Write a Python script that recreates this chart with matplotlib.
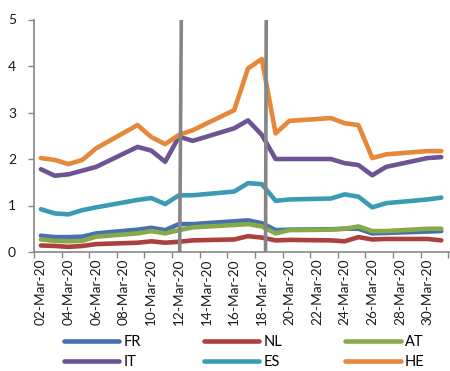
import matplotlib
matplotlib.use("Agg")
import matplotlib.pyplot as plt
import pandas as pd

plt.rcParams['font.family'] = ['Lato', 'DejaVu Sans']

# business days of March 2020
dates = ["2020-03-02", "2020-03-03", "2020-03-04", "2020-03-05", "2020-03-06",
         "2020-03-09", "2020-03-10", "2020-03-11", "2020-03-12", "2020-03-13",
         "2020-03-16", "2020-03-17", "2020-03-18", "2020-03-19", "2020-03-20",
         "2020-03-23", "2020-03-24", "2020-03-25", "2020-03-26", "2020-03-27",
         "2020-03-30", "2020-03-31"]

fr = [0.35, 0.32, 0.32, 0.33, 0.40, 0.48, 0.52, 0.47, 0.60, 0.60, 0.66,
      0.68, 0.62, 0.47, 0.48, 0.49, 0.50, 0.50, 0.40, 0.41, 0.44, 0.45]
nl = [0.14, 0.13, 0.11, 0.13, 0.17, 0.20, 0.23, 0.20, 0.22, 0.25, 0.27,
      0.34, 0.31, 0.25, 0.26, 0.25, 0.23, 0.32, 0.27, 0.28, 0.28, 0.25]
at = [0.27, 0.24, 0.23, 0.24, 0.33, 0.40, 0.45, 0.40, 0.47, 0.53, 0.58,
      0.60, 0.55, 0.40, 0.47, 0.48, 0.50, 0.55, 0.45, 0.45, 0.50, 0.50]
it = [1.78, 1.64, 1.67, 1.75, 1.83, 2.26, 2.18, 1.94, 2.48, 2.39, 2.66,
      2.83, 2.52, 2.00, 2.00, 2.00, 1.91, 1.87, 1.65, 1.83, 2.02, 2.04]
es = [0.92, 0.83, 0.81, 0.90, 0.96, 1.12, 1.16, 1.03, 1.22, 1.22, 1.30,
      1.48, 1.46, 1.10, 1.13, 1.15, 1.24, 1.19, 0.96, 1.05, 1.13, 1.17]
he = [2.02, 1.98, 1.89, 1.98, 2.23, 2.73, 2.47, 2.32, 2.52, 2.62, 3.05,
      3.95, 4.15, 2.55, 2.82, 2.88, 2.77, 2.73, 2.02, 2.10, 2.17, 2.17]

series = [("FR", fr, "#4571AE"), ("NL", nl, "#AC403E"), ("AT", at, "#88A94A"),
          ("IT", it, "#6F5495"), ("ES", es, "#3C9BB4"), ("HE", he, "#E6873A")]

x = pd.to_datetime(dates)

fig = plt.figure(figsize=(4.5, 3.71), dpi=100)
ax = fig.add_axes([34 / 450, 119 / 371, 428 / 450, 232.5 / 371])

for name, vals, col in series:
    ax.plot(x, vals, color=col, lw=3.3, label=name, solid_capstyle="round",
            solid_joinstyle="round")

# the two grey marker lines, drawn on top (day of month at bottom / top)
t0 = pd.Timestamp("2020-03-01")
for xb, xt in [(12.05, 12.17), (18.27, 18.32)]:
    ax.plot([t0 + pd.Timedelta(days=xb - 1), t0 + pd.Timedelta(days=xt - 1)], [0, 5],
            color="#858585", lw=2.6, solid_capstyle="butt", zorder=5)

ax.set_xlim(pd.Timestamp("2020-03-01 12:00"), pd.Timestamp("2020-04-01 12:00"))
ax.set_ylim(0, 5)

# ticks between dates, labels on dates
major = pd.date_range("2020-03-01 12:00", "2020-03-31 12:00", freq="2D")
minor = pd.date_range("2020-03-02", "2020-03-30", freq="2D")
ax.set_xticks(major)
ax.set_xticklabels([])
ax.set_xticks(minor, minor=True)
ax.set_xticklabels([d.strftime("%d-%b-%y") for d in minor], minor=True, rotation=90,
                   fontsize=9.8, color="#1a1a1a")
ax.tick_params(axis="x", which="major", length=4, width=1, color="#868686", direction="out")
ax.tick_params(axis="x", which="minor", length=0, pad=4.5)

ax.set_yticks([0, 1, 2, 3, 4, 5])
ax.tick_params(axis="y", length=4, width=1, color="#868686", pad=9, labelsize=10,
               labelcolor="#1a1a1a")

for s in ["top", "right"]:
    ax.spines[s].set_visible(False)
for s in ["left", "bottom"]:
    ax.spines[s].set_color("#868686")
    ax.spines[s].set_linewidth(1.2)

handles, labels = ax.get_legend_handles_labels()
order = [0, 3, 1, 4, 2, 5]
fig.legend([handles[i] for i in order], [labels[i] for i in order],
           ncol=3, loc="upper left", bbox_to_anchor=(64 / 450, 1 - 335 / 371),
           frameon=False, fontsize=10.5, handlelength=3.8, handletextpad=0.3,
           columnspacing=4.3, labelspacing=0.4, borderpad=0, borderaxespad=0)

fig.savefig("out.png", dpi=100)
